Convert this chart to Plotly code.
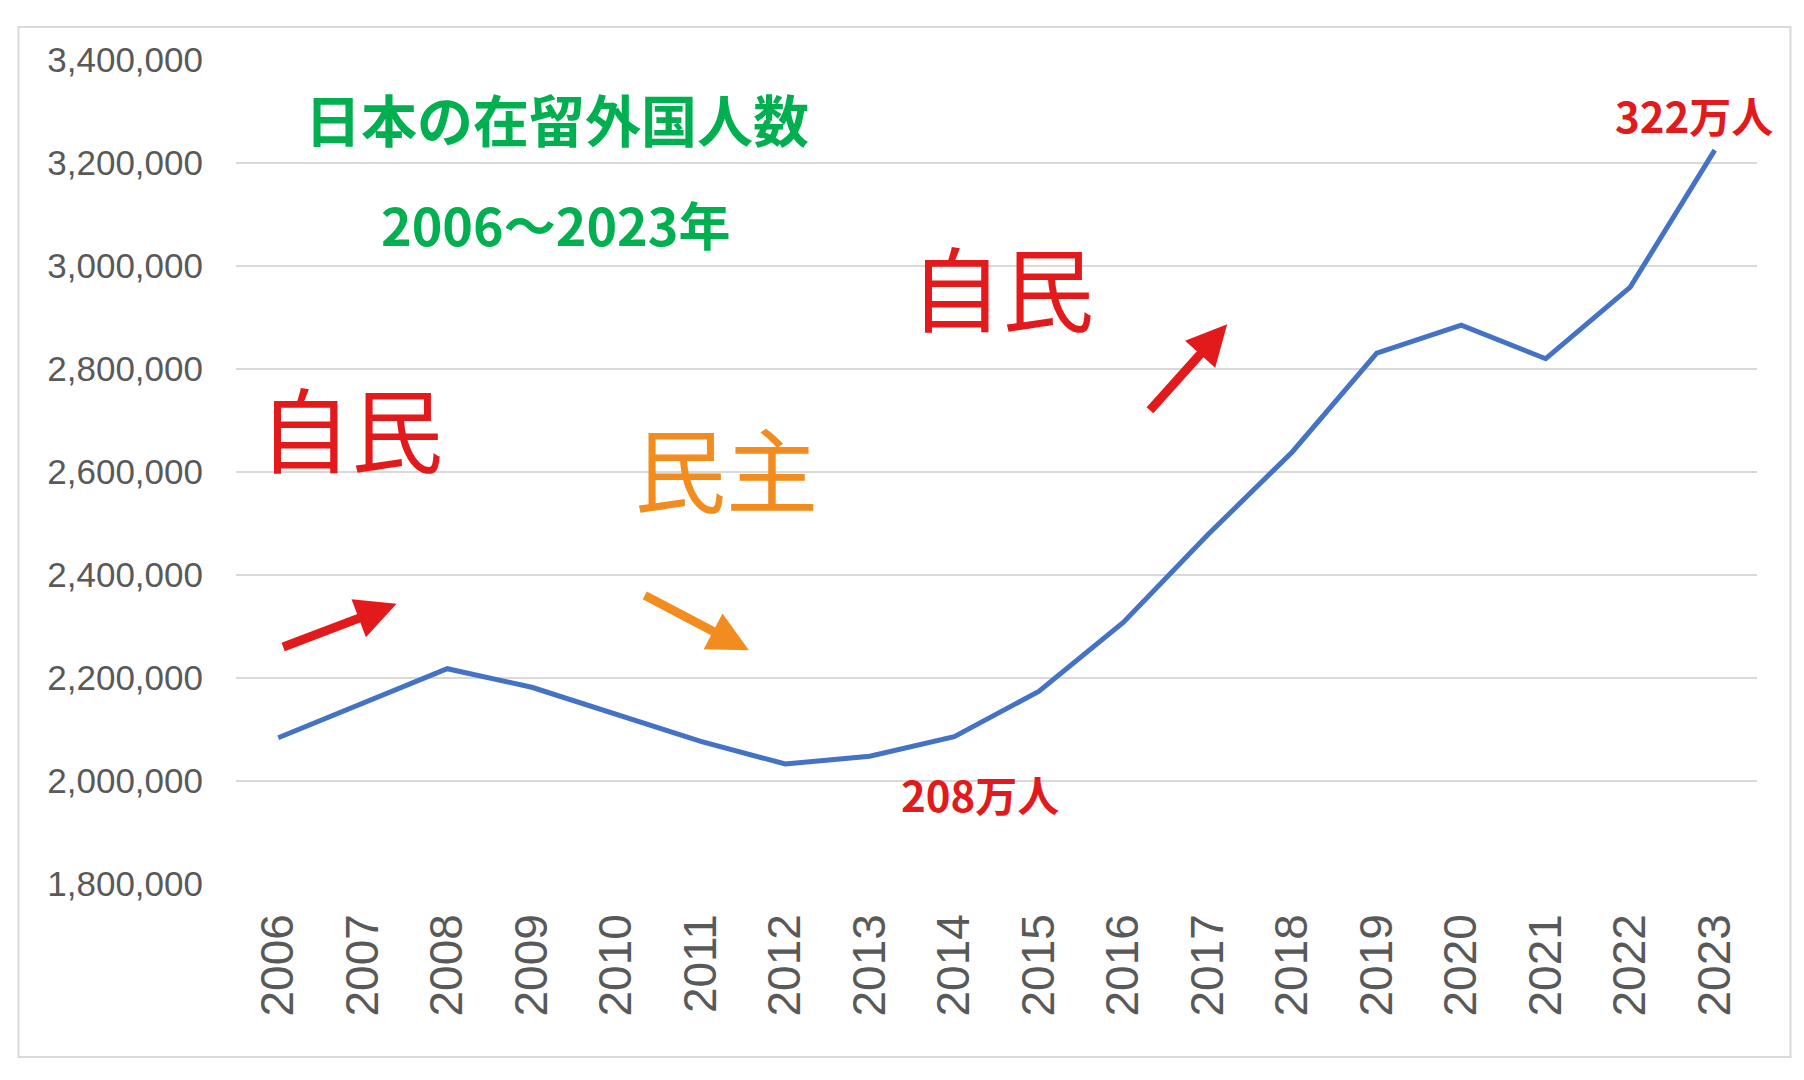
import plotly.graph_objects as go

# 在留外国人数
years = [str(y) for y in range(2006, 2024)]
residents = [2084000, 2151000, 2218000, 2182000, 2129000, 2077000, 2033000, 2048000,
             2086000, 2174000, 2308000, 2478000, 2639000, 2831000, 2885000, 2820000,
             2959000, 3225000]
y_ticks = [1800000, 2000000, 2200000, 2400000, 2600000, 2800000, 3000000, 3200000, 3400000]

font = "Noto Sans CJK JP"
red = "#e31a1c"
orange = "#f28c1e"
green = "#00b050"

fig = go.Figure(go.Scatter(x=years, y=residents, mode="lines",
                           line=dict(color="#4472c4", width=5), showlegend=False))

fig.update_layout(
    width=1804, height=1080, paper_bgcolor="white", plot_bgcolor="white",
    margin=dict(l=228, r=55, t=52, b=204),
    font=dict(family=font, color="#595959"),
    xaxis=dict(type="category", range=[-0.5, 17.5], tickangle=-90,
               tickfont=dict(size=46, family="Liberation Sans", color="#595959"),
               showgrid=False, ticks="", ticklabelstandoff=20),
    yaxis=dict(range=[1800000, 3400000], tickvals=y_ticks, tickformat=",",
               tickfont=dict(size=35, family="Liberation Sans", color="#595959"),
               gridcolor="#d9d9d9", gridwidth=2, zeroline=False,
               ticklabelstandoff=32),
)

# outer border
fig.add_shape(type="rect", xref="paper", yref="paper", x0=-0.143, x1=1.022,
              y0=-0.21, y1=1.04, line=dict(color="#d9d9d9", width=2))

def text(x, y, s, size, color, bold=False):
    fig.add_annotation(x=x, y=y, text=f"<b>{s}</b>" if bold else s, showarrow=False,
                       font=dict(size=size, color=color, family=font))

def arrow(x0, y0, x1, y1, color):
    fig.add_annotation(x=x1, y=y1, ax=x0, ay=y0, axref="x", ayref="y", text="",
                       showarrow=True, arrowhead=2, arrowsize=0.9, arrowwidth=9,
                       arrowcolor=color)

text(3.3, 3288000, "日本の在留外国人数", 56, green, True)
text(3.28, 3082000, "2006〜2023年", 52, green, True)
text(0.86, 2690000, "自民", 92, red)
text(5.3, 2612000, "民主", 92, orange)
text(8.56, 2965000, "自民", 92, red)
text(16.75, 3294000, "322万人", 42, red, True)
text(8.3, 1975000, "208万人", 42, red, True)

arrow(0.04, 2259000, 1.4, 2344000, red)
arrow(4.32, 2362000, 5.57, 2254000, orange)
arrow(10.3, 2717000, 11.23, 2887000, red)

fig.write_html("out.html")
